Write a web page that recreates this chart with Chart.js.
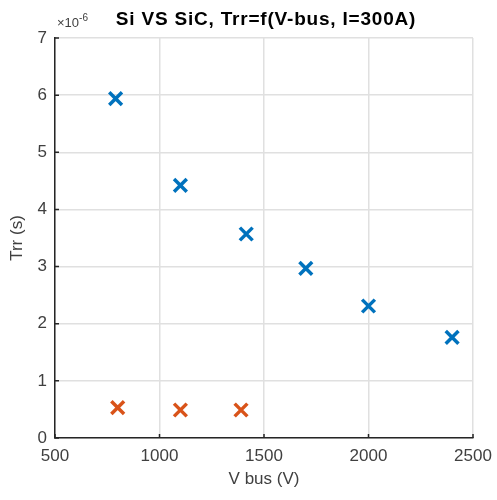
<!DOCTYPE html>
<html>
<head>
<meta charset="utf-8">
<script src="https://cdn.jsdelivr.net/npm/chart.js@4"></script>
<style>
  html, body { margin: 0; padding: 0; background: #fff; }
  #wrap { width: 497px; height: 500px; }
</style>
</head>
<body>
<div id="wrap"><canvas id="trrChart"></canvas></div>
<script>
// Trr vs bus voltage, Si vs SiC at I=300A
var siVbus  = [790, 1100, 1415, 1700, 2000, 2400];
var siTrr   = [5.94e-6, 4.42e-6, 3.57e-6, 2.97e-6, 2.31e-6, 1.76e-6];
var sicVbus = [800, 1100, 1390];
var sicTrr  = [0.53e-6, 0.49e-6, 0.49e-6];

var xTicks = [500, 1000, 1500, 2000, 2500];
var yTicks = [0, 1, 2, 3, 4, 5, 6, 7];   // in units of 1e-6 s

var palette = {
    blue:   '#0072BD',
    orange: '#D95319',
    axis:   '#262626',
    text:   '#404040',
    grid:   '#e0e0e0'
};

var fontFamily = "'Liberation Sans', Arial, Helvetica, sans-serif";

function pairs(xs, ys) {
    return xs.map(function (x, i) { return { x: x, y: ys[i] }; });
}

// title, exponent and inner tick marks, MATLAB style
var matlabDecor = {
    id: 'matlabDecor',
    afterDraw: function (chart) {
        var ctx = chart.ctx;
        var area = chart.chartArea;
        var xs = chart.scales.x, ys = chart.scales.y;
        ctx.save();

        ctx.strokeStyle = palette.axis;
        ctx.lineWidth = 1.5;
        ctx.beginPath();
        xTicks.forEach(function (v) {
            var px = xs.getPixelForValue(v);
            ctx.moveTo(px, area.bottom);
            ctx.lineTo(px, area.bottom - 4);
        });
        yTicks.forEach(function (v) {
            var py = ys.getPixelForValue(v * 1e-6);
            ctx.moveTo(area.left, py);
            ctx.lineTo(area.left + 4, py);
        });
        ctx.stroke();

        ctx.fillStyle = '#000';
        ctx.font = 'bold 19px ' + fontFamily;
        if ('letterSpacing' in ctx) ctx.letterSpacing = '0.8px';
        ctx.textAlign = 'center';
        ctx.textBaseline = 'middle';
        ctx.fillText('Si VS SiC, Trr=f(V-bus, I=300A)', 266, 20);
        if ('letterSpacing' in ctx) ctx.letterSpacing = '0px';

        ctx.fillStyle = palette.text;
        ctx.textAlign = 'left';
        ctx.textBaseline = 'alphabetic';
        ctx.font = '13px ' + fontFamily;
        ctx.fillText('\u00d710', 57, 27);
        var w = ctx.measureText('\u00d710').width;
        ctx.font = '10px ' + fontFamily;
        ctx.fillText('-6', 57 + w, 21);
        ctx.restore();
    }
};

new Chart(document.getElementById('trrChart'), {
    type: 'scatter',
    data: {
        datasets: [{
            label: 'Si',
            data: pairs(siVbus, siTrr),
            borderColor: palette.blue,
            backgroundColor: palette.blue
        }, {
            label: 'SiC',
            data: pairs(sicVbus, sicTrr),
            borderColor: palette.orange,
            backgroundColor: palette.orange
        }]
    },
    options: {
        responsive: true,
        maintainAspectRatio: false,
        animation: false,
        events: [],
        layout: { padding: { top: 38, right: 24, left: 0, bottom: 0 } },
        elements: {
            point: { pointStyle: 'crossRot', radius: 9, borderWidth: 3.5 }
        },
        plugins: {
            legend: { display: false },
            tooltip: { enabled: false }
        },
        scales: {
            x: {
                type: 'linear',
                min: 500, max: 2500,
                afterFit: function (s) {
                    s.height = 62;
                    s.paddingLeft = 0;
                    s.paddingRight = 0;
                },
                afterBuildTicks: function (s) {
                    s.ticks = xTicks.map(function (v) { return { value: v }; });
                },
                grid: { color: palette.grid, lineWidth: 1.5, drawTicks: false },
                border: { color: palette.axis, width: 1.5 },
                ticks: {
                    padding: 8,
                    color: palette.text,
                    font: { family: fontFamily, size: 17 },
                    maxRotation: 0,
                    callback: function (v) { return String(v); }
                },
                title: {
                    display: true,
                    text: 'V bus (V)',
                    color: palette.text,
                    font: { family: fontFamily, size: 17 },
                    padding: { top: 0, bottom: 10 }
                }
            },
            y: {
                type: 'linear',
                min: 0, max: 7e-6,
                afterFit: function (s) { s.width = 55; },
                afterBuildTicks: function (s) {
                    s.ticks = yTicks.map(function (v) { return { value: v * 1e-6 }; });
                },
                grid: { color: palette.grid, lineWidth: 1.5, drawTicks: false },
                border: { color: palette.axis, width: 1.5 },
                ticks: {
                    padding: 8,
                    color: palette.text,
                    font: { family: fontFamily, size: 17 },
                    callback: function (v) { return String(Math.round(v * 1e6)); }
                },
                title: {
                    display: true,
                    text: 'Trr (s)',
                    color: palette.text,
                    font: { family: fontFamily, size: 17 },
                    padding: { top: 7, bottom: 0 }
                }
            }
        }
    },
    plugins: [matlabDecor]
});
</script>
</body>
</html>
